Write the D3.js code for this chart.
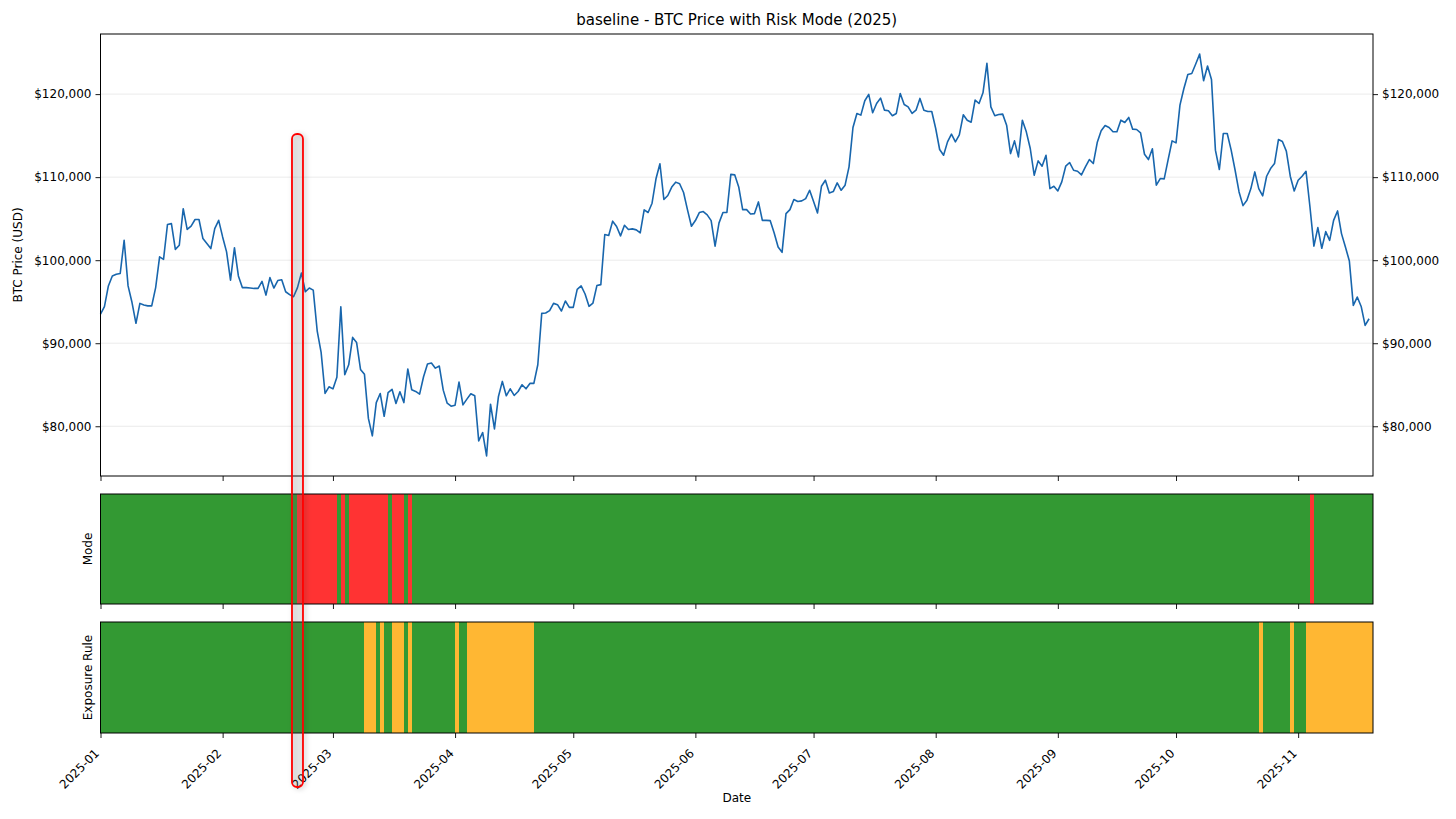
<!DOCTYPE html>
<html>
<head>
  <meta charset="utf-8" />
  <title>baseline - BTC Price with Risk Mode (2025)</title>
  <script src="https://d3js.org/d3.v7.min.js"></script>
  <style>
    body{ margin:0; background:#fff; }
    svg{ font-family:"DejaVu Sans", sans-serif; }
  </style>
</head>
<body>
<script>
// daily close, starting 2025-01-01
var startDate = "2025-01-01";
var endDate = "2025-11-20";
var prices = [
  93500, 94400, 96900, 98100, 98300, 98400, 102400, 96900, 94900, 92400,
  94800, 94600, 94500, 94500, 96700, 100400, 100100, 104300, 104400, 101300,
  101800, 106200, 103700, 104100, 104900, 104900, 102600, 102000, 101400, 103800,
  104800, 102800, 101000, 97600, 101500, 98100, 96700, 96700, 96650, 96600,
  96600, 97450, 95800, 97900, 96650, 97550, 97650, 96200, 95850, 95600,
  96700, 98450, 96200, 96650, 96400, 91500, 88900, 83950, 84750, 84500,
  85900, 94400, 86200, 87400, 90700, 90100, 86850, 86250, 80950, 78850,
  82850, 83950, 81200, 84050, 84450, 82750, 84150, 82850, 86900, 84400,
  84200, 83870, 85960, 87490, 87610, 87000, 87250, 84350, 82780, 82420,
  82540, 85320, 82580, 83270, 83910, 83670, 78240, 79250, 76430, 82660,
  79690, 83550, 85400, 83670, 84510, 83710, 84190, 85000, 84510, 85160,
  85160, 87410, 93600, 93640, 93920, 94800, 94640, 93880, 95090, 94320,
  94320, 96490, 96900, 95930, 94440, 94840, 96940, 97060, 103090, 102970,
  104700, 104050, 102930, 104210, 103690, 103770, 103650, 103290, 106060, 105740,
  106860, 109800, 111610, 107310, 107790, 108800, 109400, 109200, 108150, 106060,
  104090, 104770, 105740, 105860, 105460, 104770, 101680, 104490, 105740, 105740,
  110330, 110270, 108820, 106090, 106090, 105570, 105610, 107020, 104800, 104800,
  104760, 103280, 101590, 100950, 105610, 106090, 107300, 107060, 107140, 107420,
  108420, 107060, 105690, 108900, 109630, 108100, 108260, 109310, 108420, 109030,
  111240, 115980, 117670, 117470, 119200, 119960, 117750, 118870, 119520, 118070,
  117990, 117390, 117670, 120080, 118750, 118470, 117670, 118070, 119480, 118070,
  117910, 117910, 115860, 113330, 112640, 114250, 115180, 114250, 115100, 117510,
  116860, 116620, 119280, 118870, 120160, 123700, 118470, 117390, 117550, 117590,
  116260, 112840, 114370, 112440, 116860, 115460, 113450, 110230, 111960, 111320,
  112640, 108620, 108900, 108340, 109430, 111320, 111760, 110830, 110710, 110270,
  111240, 112120, 111640, 114170, 115580, 116220, 115980, 115460, 115460, 116860,
  116580, 117190, 115780, 115740, 115340, 112760, 112120, 113410, 109030, 109830,
  109790, 112120, 114370, 114130, 118670, 120680, 122370, 122490, 123620, 124820,
  121610, 123380, 121770, 113250, 110920, 115260, 115260, 113250, 110830, 108220,
  106570, 107210, 108620, 110630, 108620, 107740, 110110, 111040, 111640, 114530,
  114290, 113130, 110110, 108340, 109630, 110110, 110710, 106410, 101700, 103920,
  101430, 103440, 102390, 104800, 105930, 103200, 101590, 99900, 94550, 95560,
  94430, 92140, 92950
];

// risk-off (red) days, inclusive ranges; everything else is risk-on (green)
var riskOffRanges = [
  ["2025-02-20", "2025-03-01"],
  ["2025-03-03", "2025-03-03"],
  ["2025-03-05", "2025-03-14"],
  ["2025-03-16", "2025-03-18"],
  ["2025-03-20", "2025-03-20"],
  ["2025-11-04", "2025-11-04"]
];
// reduced exposure (orange) days, inclusive ranges; the rest is full (green)
var reducedRanges = [
  ["2025-03-09", "2025-03-11"],
  ["2025-03-13", "2025-03-13"],
  ["2025-03-16", "2025-03-18"],
  ["2025-03-20", "2025-03-20"],
  ["2025-04-01", "2025-04-01"],
  ["2025-04-04", "2025-04-20"],
  ["2025-10-22", "2025-10-22"],
  ["2025-10-30", "2025-10-30"],
  ["2025-11-03", "2025-11-19"]
];
var priceTicks = [80000, 90000, 100000, 110000, 120000];
var highlightDate = "2025-02-20";

var W = 1456, H = 819;
var left = 100.5, right = 1373;
var top1 = [34, 476], top2 = [494, 604], top3 = [622, 733];
var green = "#339933", red = "#ff3333", orange = "#ffb733";
var font = "DejaVu Sans";

var parse = d3.utcParse("%Y-%m-%d");
var day = 864e5;
var t0 = parse(startDate);
var series = prices.map(function(p, i){ return {date: new Date(+t0 + i*day), price: p}; });

var svg = d3.select("body").append("svg").attr("width", W).attr("height", H);

var x = d3.scaleUtc().domain([t0, parse(endDate)]).range([left, right]);
var months = d3.utcMonth.range(t0, parse(endDate));

var ext = d3.extent(prices), pad = (ext[1]-ext[0])*0.05;
var y = d3.scaleLinear().domain([ext[0]-pad, ext[1]+pad]).range([top1[1], top1[0]]);
var money = function(v){ return "$" + d3.format(",")(v); };

function styleAxis(g){
  g.attr("font-size", 12).attr("font-family", font);
  g.select(".domain").remove();
  g.selectAll(".tick line").attr("stroke", "#000").attr("stroke-width", 0.9);
}

// title
svg.append("text").attr("x", (left+right)/2).attr("y", 25)
  .attr("text-anchor", "middle").attr("font-size", 15)
  .text("baseline - BTC Price with Risk Mode (2025)");

// grid
svg.append("g").selectAll("line").data(priceTicks).enter().append("line")
  .attr("x1", left).attr("x2", right)
  .attr("y1", function(d){ return y(d); }).attr("y2", function(d){ return y(d); })
  .attr("stroke", "#e6e6e6").attr("stroke-width", 0.8);

// price line
svg.append("path").datum(series)
  .attr("fill", "none").attr("stroke", "#1866ad").attr("stroke-width", 1.6)
  .attr("stroke-linejoin", "round")
  .attr("d", d3.line().x(function(d){ return x(d.date); }).y(function(d){ return y(d.price); }));

// axes of the price panel
svg.append("g").attr("transform", "translate(" + left + ",0)")
  .call(d3.axisLeft(y).tickValues(priceTicks).tickFormat(money).tickSize(5).tickPadding(4))
  .call(styleAxis);
svg.append("g").attr("transform", "translate(" + right + ",0)")
  .call(d3.axisRight(y).tickValues(priceTicks).tickFormat(money).tickSize(5).tickPadding(4))
  .call(styleAxis);
svg.append("g").attr("transform", "translate(0," + top1[1] + ")")
  .call(d3.axisBottom(x).tickValues(months).tickFormat("").tickSize(5))
  .call(styleAxis);
svg.append("rect").attr("x", left).attr("y", top1[0])
  .attr("width", right-left).attr("height", top1[1]-top1[0])
  .attr("fill", "none").attr("stroke", "#000").attr("stroke-width", 1);

svg.append("text").attr("transform", "translate(22," + (top1[0]+top1[1])/2 + ") rotate(-90)")
  .attr("text-anchor", "middle").attr("font-size", 12).text("BTC Price (USD)");

// state band: one cell per day
function inRanges(d, ranges){
  return ranges.some(function(r){ return d >= parse(r[0]) && d <= parse(r[1]); });
}
function band(rows, ranges, onColor, offColor, label, showLabels){
  var g = svg.append("g");
  g.selectAll("rect").data(series).enter().append("rect")
    .attr("x", function(d){ return x(d.date); })
    .attr("width", function(d){ return x(new Date(+d.date + day)) - x(d.date) + 0.4; })
    .attr("y", rows[0]).attr("height", rows[1]-rows[0])
    .attr("fill", function(d){ return inRanges(d.date, ranges) ? offColor : onColor; })
    .attr("shape-rendering", "crispEdges");
  svg.append("rect").attr("x", left).attr("y", rows[0])
    .attr("width", right-left).attr("height", rows[1]-rows[0])
    .attr("fill", "none").attr("stroke", "#000").attr("stroke-width", 1);
  var ax = svg.append("g").attr("transform", "translate(0," + rows[1] + ")")
    .call(d3.axisBottom(x).tickValues(months)
      .tickFormat(showLabels ? d3.utcFormat("%Y-%m") : "").tickSize(5).tickPadding(2))
    .call(styleAxis);
  if(showLabels){
    ax.selectAll(".tick text")
      .attr("text-anchor", "end").attr("dy", null).attr("y", 0)
      .attr("transform", "translate(-1,21) rotate(-45)");
  }
  svg.append("text").attr("transform", "translate(92," + (rows[0]+rows[1])/2 + ") rotate(-90)")
    .attr("text-anchor", "middle").attr("font-size", 12).text(label);
}
band(top2, riskOffRanges, green, red, "Mode", false);
band(top3, reducedRanges, green, orange, "Exposure Rule", true);

svg.append("text").attr("x", (left+right)/2).attr("y", 802)
  .attr("text-anchor", "middle").attr("font-size", 12).text("Date");

// hand-drawn highlight around the risk-off switch
var defs = svg.append("defs");
var f = defs.append("filter").attr("id", "glow").attr("x", "-100%").attr("width", "300%");
f.append("feDropShadow").attr("dx", 2).attr("dy", 1).attr("stdDeviation", 2.5)
  .attr("flood-color", "#000").attr("flood-opacity", 0.25);
var hc = x(parse(highlightDate));
svg.append("rect").attr("x", hc-5.5).attr("y", 134).attr("width", 11).attr("height", 653)
  .attr("rx", 5).attr("fill", "rgba(120,120,120,0.15)")
  .attr("stroke", "#ff0000").attr("stroke-width", 1.8).attr("filter", "url(#glow)");
</script>
</body>
</html>
